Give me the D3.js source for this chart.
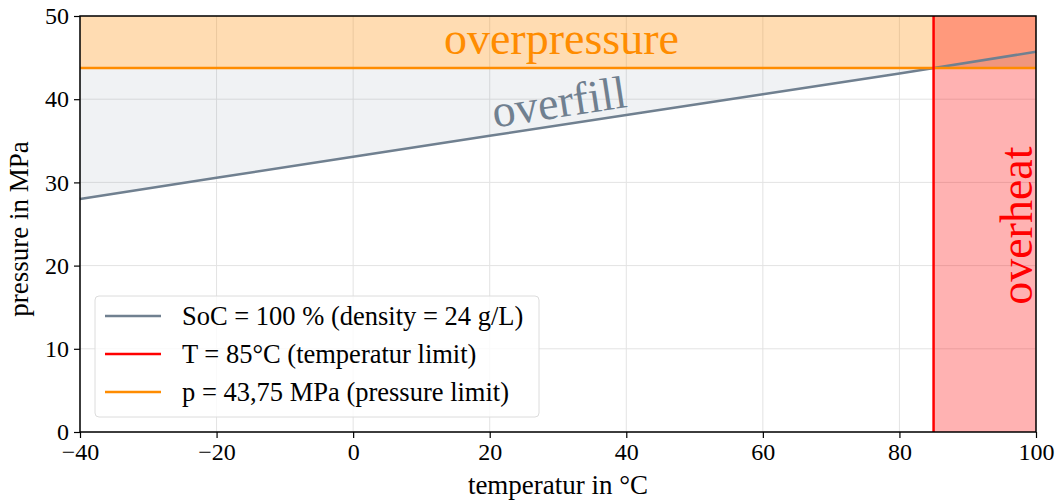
<!DOCTYPE html>
<html><head><meta charset="utf-8">
<script src="https://cdn.jsdelivr.net/npm/d3@7"></script>
<style>body{margin:0;background:#fff}svg{font-family:"Liberation Serif","Times New Roman",serif}</style>
</head><body><svg id="c" width="1060" height="501"></svg>
<script>
const temps = [-40, -20, 0, 20, 40, 60, 80, 100];
const socPressure = [28.0, 30.55, 33.07, 35.6, 38.1, 40.6, 43.1, 45.7];
const tempLimit = 85;
const pressureLimit = 43.75;
const xTicks = [-40, -20, 0, 20, 40, 60, 80, 100];
const yTicks = [0, 10, 20, 30, 40, 50];
const legendLabels = ["SoC = 100 % (density = 24 g/L)", "T = 85°C (temperatur limit)", "p = 43,75 MPa (pressure limit)"];
const zoneLabels = ["overpressure", "overfill", "overheat"];
const xLabel = "temperatur in °C", yLabel = "pressure in MPa";

const svg = d3.select("#c");
const L = 80, R = 1036, T = 16, B = 432;
const x = d3.scaleLinear().domain([-40, 100]).range([L, R]);
const y = d3.scaleLinear().domain([0, 50]).range([B, T]);
const data = temps.map((t, i) => ({t, p: socPressure[i]}));

// grid
const g = svg.append("g");
g.selectAll(".gx").data(xTicks).join("line").attr("x1", d => x(d)).attr("x2", d => x(d)).attr("y1", T).attr("y2", B).attr("stroke", "#e3e3e3").attr("stroke-width", 1);
g.selectAll(".gy").data(yTicks).join("line").attr("y1", d => y(d)).attr("y2", d => y(d)).attr("x1", L).attr("x2", R).attr("stroke", "#e3e3e3").attr("stroke-width", 1);

// fills
svg.append("rect").attr("x", L).attr("y", T).attr("width", R - L).attr("height", y(pressureLimit) - T).attr("fill", "#ff8c00").attr("fill-opacity", 0.3);
svg.append("rect").attr("x", x(tempLimit)).attr("y", T).attr("width", R - x(tempLimit)).attr("height", B - T).attr("fill", "#ff0000").attr("fill-opacity", 0.3);
const area = d3.area().x(d => x(d.t)).y0(d => y(d.p)).y1(y(pressureLimit));
svg.append("path").datum(data).attr("d", area).attr("fill", "#708090").attr("fill-opacity", 0.1);

// lines
svg.append("path").datum(data).attr("d", d3.line().x(d => x(d.t)).y(d => y(d.p))).attr("fill", "none").attr("stroke", "#708090").attr("stroke-width", 2.5);
svg.append("line").attr("x1", L).attr("x2", R).attr("y1", y(pressureLimit)).attr("y2", y(pressureLimit)).attr("stroke", "#ff8c00").attr("stroke-width", 2.5);
svg.append("line").attr("x1", x(tempLimit)).attr("x2", x(tempLimit)).attr("y1", T).attr("y2", B).attr("stroke", "#ff0000").attr("stroke-width", 2.5);

// zone labels
svg.append("text").attr("x", x(30.5)).attr("y", 54).attr("text-anchor", "middle").attr("font-size", 46).attr("fill", "#ff8c00").text(zoneLabels[0]);
const ang = Math.atan2(y(socPressure[7]) - y(socPressure[0]), x(100) - x(-40)) * 180 / Math.PI;
svg.append("text").attr("transform", `translate(${x(30.5)},${y(38.2) + 3}) rotate(${ang})`).attr("text-anchor", "middle").attr("font-size", 46).attr("fill", "#708090").text(zoneLabels[1]);
svg.append("text").attr("transform", `translate(${R - 4},${y(24.8)}) rotate(-90)`).attr("text-anchor", "middle").attr("font-size", 46).attr("fill", "#ff0000").text(zoneLabels[2]);

// axes
const xa = svg.append("g").attr("transform", `translate(0,${B})`).call(d3.axisBottom(x).tickValues(xTicks).tickSize(6).tickPadding(5).tickFormat(d => d < 0 ? "\u2212" + Math.abs(d) : d));
const ya = svg.append("g").attr("transform", `translate(${L},0)`).call(d3.axisLeft(y).tickValues(yTicks).tickSize(6).tickPadding(5));
[xa, ya].forEach(a => {
  a.select(".domain").remove();
  a.selectAll("text").attr("font-size", 24).attr("font-family", "Liberation Serif").attr("fill", "#000");
  a.selectAll("line").attr("stroke", "#000").attr("stroke-width", 1.2);
});
svg.append("rect").attr("x", L).attr("y", T).attr("width", R - L).attr("height", B - T).attr("fill", "none").attr("stroke", "#000").attr("stroke-width", 1.5);

svg.append("text").attr("x", 558).attr("y", 494).attr("text-anchor", "middle").attr("font-size", 27).text(xLabel);
svg.append("text").attr("transform", `translate(28,229) rotate(-90)`).attr("text-anchor", "middle").attr("font-size", 27).text(yLabel);

// legend
const lg = svg.append("g");
lg.append("rect").attr("x", 95).attr("y", 296).attr("width", 444).attr("height", 121).attr("rx", 4).attr("fill", "#fff").attr("fill-opacity", 0.8).attr("stroke", "#dcdcdc");
const colors = ["#708090", "#ff0000", "#ff8c00"];
legendLabels.forEach((lab, i) => {
  const yy = 316 + i * 38;
  lg.append("line").attr("x1", 105).attr("x2", 161).attr("y1", yy).attr("y2", yy).attr("stroke", colors[i]).attr("stroke-width", 2.5);
  lg.append("text").attr("x", 182).attr("y", yy + 9).attr("font-size", 26.5).text(lab);
});
</script></body></html>
